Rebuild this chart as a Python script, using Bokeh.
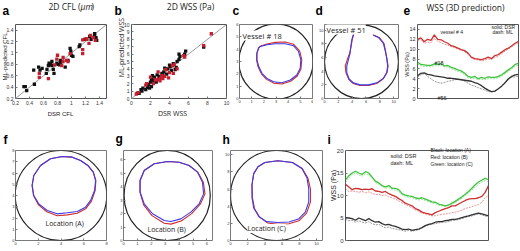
import numpy as np
from bokeh.plotting import figure
from bokeh.layouts import row
from bokeh.models import Label, FixedTicker, Range1d, GridBox
from bokeh.embed import file_html
from bokeh.resources import INLINE

# ---------------- data ----------------
# (a) 2D CFL: DSR vs ML-predicted
cfl_dsr_black = [0.32,0.34,0.36,0.47,0.46,0.53,0.55,0.58,0.64,0.65,0.67,0.68,0.72,0.74,0.75,0.79,0.81,0.84,0.86,0.91,
                 0.95,0.98,0.99,1.00,1.02,1.11,1.12,1.19,1.26,1.28,1.33,1.35,1.36,1.33,0.84,0.72,0.83,0.70]
cfl_ml_black = [0.41,0.41,0.34,0.45,0.70,0.75,0.70,0.73,0.64,0.71,0.78,0.82,0.85,0.71,0.64,0.82,0.80,0.82,0.85,0.75,
                0.87,1.08,1.03,0.96,0.94,1.11,1.14,1.24,1.29,1.24,1.34,1.27,1.22,1.32,0.87,0.78,0.79,0.80]
cfl_dsr_red = [0.54,0.54,0.67,0.80,0.79,0.88,0.86,0.93,0.95,0.98,1.16,1.16,1.16,1.21,1.25,1.27,1.31,1.34,1.22,0.76,0.88]
cfl_ml_red = [0.64,0.57,0.55,0.96,0.89,0.92,0.78,0.87,0.85,0.99,0.99,1.06,1.23,1.25,1.17,1.31,1.27,1.22,1.24,0.79,0.85]
cfl_identity = [0.2, 1.5]

# (b) 2D WSS: DSR vs ML-predicted
wss_dsr_black = [0.6,0.8,1.0,1.1,1.2,1.8,1.9,2.0,2.1,2.1,2.2,2.4,2.6,2.7,2.9,3.2,3.4,3.7,3.8,4.1,
                 4.2,4.6,4.7,4.8,5.0,5.1,5.6,5.7,5.0,1.7,3.5,4.0,3.3,7.6,2.3,1.5,4.4]
wss_ml_black = [0.7,0.7,1.2,1.0,1.4,1.9,1.4,2.2,1.6,2.6,3.1,2.9,2.2,3.2,3.0,3.4,3.6,3.3,4.0,4.3,
                3.8,3.9,4.2,5.0,5.3,5.7,6.0,6.4,6.0,1.5,4.1,4.5,3.2,6.95,2.4,1.2,4.7]
wss_dsr_red = [0.5,0.7,1.5,1.6,2.3,2.5,2.8,3.0,3.1,3.3,3.5,3.6,3.9,4.0,4.3,4.4,4.5,5.5,5.6,2.0,2.8,7.6,8.4,4.8,3.2]
wss_ml_red = [0.6,0.8,1.8,2.0,2.0,2.5,2.6,2.4,2.8,2.7,3.0,3.9,2.8,3.5,4.4,3.4,4.6,5.8,5.6,2.9,3.6,7.15,8.75,4.0,3.1]
wss_identity = [0.0, 10.0]

# cross-section contours (red / blue) and outer wall circle (cx, cy, width, height)
c_red_x = [1.72,2.26,2.94,3.76,4.44,4.95,5.12,5.05,4.75,4.20,3.49,2.81,2.22,1.80,1.52,1.40,1.42,1.56]
c_red_y = [4.25,4.42,4.55,4.58,4.40,3.85,3.13,2.40,1.82,1.40,1.17,1.25,1.55,2.00,2.59,3.13,3.68,4.10]
c_blue_x = [1.72,2.26,2.94,3.76,4.44,4.85,5.04,4.99,4.71,4.17,3.49,2.81,2.26,1.85,1.58,1.44,1.44,1.58]
c_blue_y = [4.22,4.36,4.44,4.44,4.28,3.81,3.13,2.45,1.91,1.50,1.28,1.36,1.63,2.04,2.59,3.13,3.68,4.09]
c_wall = [3.0, 3.0, 6.1, 6.1]

d_red_x = [4.25,4.00,3.85,3.65,3.30,3.00,3.10,3.50,4.15,5.14,6.35,7.55,8.50,9.05,9.20,9.00,8.80,8.60,7.90,7.00]
d_red_y = [9.50,8.60,7.60,6.67,5.71,4.76,3.81,2.80,2.20,1.90,1.92,2.20,2.90,3.81,4.76,5.95,7.14,8.10,8.95,9.35]
d_blue_x = [4.18,3.94,3.80,3.70,3.46,3.22,3.22,3.56,4.18,5.14,6.35,7.55,8.51,8.99,9.13,8.99,8.75,8.51,7.79,7.07]
d_blue_y = [9.43,8.57,7.62,6.67,5.71,4.76,3.81,2.86,2.29,2.00,2.00,2.29,2.95,3.81,4.76,5.95,7.14,8.10,8.95,9.29]
d_wall = [5.35, 5.4, 10.7, 10.8]

f_red_x = [4.10,3.08,2.20,1.61,1.45,1.58,2.00,2.75,3.67,4.55,5.43,6.20,6.68,7.00,7.07,6.85,6.36,5.72,4.99]
f_red_y = [7.47,7.26,6.67,5.78,4.89,4.00,3.20,2.55,2.20,2.28,2.42,2.85,3.50,4.44,5.33,6.07,6.67,7.11,7.41]
f_blue_x = [4.10,3.08,2.20,1.61,1.47,1.61,2.05,2.79,3.67,4.55,5.43,6.16,6.60,6.95,7.04,6.83,6.36,5.72,4.99]
f_blue_y = [7.47,7.26,6.67,5.78,4.89,4.00,3.26,2.67,2.37,2.46,2.58,2.96,3.56,4.44,5.33,6.07,6.67,7.11,7.41]
f_wall = [4.0, 4.0, 8.05, 8.0]

g_red_x = [3.17,2.21,1.49,1.18,1.18,1.45,2.05,2.93,3.41,4.15,4.90,5.52,5.86,5.74,5.34,4.72,4.00]
g_red_y = [5.88,5.71,5.21,4.47,3.60,2.65,1.85,1.28,1.22,1.45,2.00,2.70,3.47,4.34,5.09,5.58,5.83]
g_blue_x = [3.17,2.21,1.49,1.20,1.20,1.49,2.09,2.93,3.41,4.12,4.84,5.44,5.76,5.68,5.32,4.72,4.00]
g_blue_y = [5.88,5.71,5.21,4.47,3.60,2.73,1.99,1.49,1.41,1.61,2.11,2.73,3.47,4.34,5.09,5.58,5.83]
g_wall = [3.14, 3.35, 6.2, 6.7]

h_red_x = [5.5,4.0,3.2,2.7,2.5,2.55,2.8,3.4,4.3,5.5,6.8,7.95,8.85,9.3,9.3,9.0,8.35,7.2]
h_red_y = [9.3,9.1,8.6,7.8,6.5,5.0,3.7,2.7,2.05,1.9,1.95,2.3,3.2,4.5,6.0,7.3,8.4,9.1]
h_blue_x = [5.5,4.0,3.2,2.7,2.5,2.5,2.7,3.3,4.2,5.5,6.8,7.9,8.7,9.1,9.1,8.9,8.3,7.2]
h_blue_y = [9.3,9.1,8.6,7.8,6.5,5.0,3.8,2.8,2.2,2.1,2.15,2.5,3.3,4.5,6.0,7.3,8.4,9.1]
h_wall = [5.35, 5.25, 10.7, 10.5]

# (e) WSS along the vessel, 3D prediction
e_v4_dsr = [12.0,12.3,11.5,12.0,11.8,12.9,12.0,11.9,11.5,11.2,10.7,10.5,10.2,9.9,9.7,9.2,8.4,8.1,8.0,7.9,
            8.1,8.4,8.1,8.7,8.9,9.4,9.9,10.2,10.7,11.2,11.6]
e_v4_ml = [11.6,11.9,11.2,11.4,11.3,12.2,11.6,11.3,11.0,10.8,10.5,10.3,10.0,9.8,9.5,9.0,8.2,7.9,7.8,7.6,
           7.8,8.0,7.9,8.3,8.6,9.1,9.6,10.0,10.5,10.9,11.3]
e_v18_dsr = [7.4,6.9,6.8,6.7,6.7,7.0,6.9,7.1,6.6,6.7,6.3,6.1,5.8,5.6,5.1,4.5,4.3,4.5,4.0,4.3,
             4.1,4.4,4.3,4.3,4.5,4.8,5.3,5.8,6.3,6.9,7.1]
e_v18_ml = [7.0,6.6,6.5,6.5,6.4,6.7,6.6,6.8,6.4,6.4,6.0,5.8,5.5,5.3,4.8,4.2,4.0,4.1,3.8,3.9,
            3.8,4.0,4.0,4.0,4.2,4.5,5.0,5.5,6.0,6.5,6.8]
e_v56_dsr = [4.6,5.1,5.2,4.9,4.8,4.6,4.5,4.4,4.3,4.1,4.1,4.0,3.9,3.8,3.7,3.6,3.5,3.2,3.0,2.6,
             2.1,1.7,1.4,1.5,1.96,2.5,3.2,4.0,4.5,4.8,4.9]
e_v56_ml = [4.3,4.8,5.05,4.5,4.0,3.5,3.25,3.1,3.25,3.5,3.6,3.8,3.9,3.8,3.5,3.1,2.7,2.5,2.2,1.96,
            1.7,1.4,1.3,1.5,1.96,2.6,3.2,3.8,4.3,4.4,4.5]
e_ticks = [0, 2, 4, 6, 8, 10, 12, 14]

# (i) WSS at three locations
i_c_dsr = [13.45,14.4,15.0,15.4,15.0,14.7,15.3,15.0,14.1,13.2,12.8,12.2,11.9,12.2,11.6,11.6,11.3,10.4,10.1,9.9,
           9.8,9.5,9.3,9.5,9.2,8.9,8.6,8.5,8.1,7.9,7.7,7.9,8.3,8.7,9.2,9.7,10.3,10.9,11.6,12.4,13.0,13.45,13.8,13.5]
i_c_ml = [12.85,13.9,14.7,15.0,14.6,14.3,14.8,14.6,13.8,12.9,12.5,12.0,11.6,11.8,11.3,11.2,10.9,10.1,9.8,9.6,
          9.5,9.2,9.0,9.1,8.9,8.6,8.3,8.2,7.9,7.7,7.6,7.7,8.0,8.4,8.9,9.4,10.0,10.6,11.2,11.9,12.5,13.0,13.3,13.0]
i_b_dsr = [12.5,11.9,11.3,11.6,11.5,11.3,11.4,11.3,11.5,11.0,10.9,10.7,10.9,10.4,10.1,9.8,9.3,8.9,8.3,8.0,
           7.7,7.1,6.8,6.3,6.06,5.9,5.7,6.2,6.5,6.8,7.1,7.3,7.7,7.7,8.1,8.5,8.9,9.2,9.3,9.3,9.5,9.8,10.7,12.2]
i_b_ml = [11.6,10.9,11.0,10.9,10.7,10.9,10.6,10.8,10.5,10.2,10.3,10.0,10.1,9.7,9.5,9.2,8.8,8.4,8.0,7.6,
          7.3,6.8,6.5,6.1,5.9,5.7,5.45,5.5,5.7,5.8,5.9,6.0,6.2,6.3,6.5,6.8,7.1,7.3,7.5,7.8,8.0,8.5,9.5,10.1]
i_a_dsr = [5.1,5.0,4.85,4.5,5.0,4.7,4.4,4.85,4.4,4.06,4.2,3.76,3.45,3.6,3.3,3.15,2.85,2.55,2.4,2.55,
           2.24,2.4,2.55,2.85,3.3,3.6,3.76,4.06,4.2,4.2,4.4,4.5,4.7,4.7,4.85,5.1,5.3,5.45,5.7,5.9,6.06,5.9,5.7,5.45]
i_a_ml = [4.7,4.4,4.5,4.06,4.4,4.06,3.9,4.2,3.76,3.45,3.6,3.15,2.85,3.0,2.67,2.55,2.4,2.24,2.06,2.24,
          2.06,2.24,2.4,2.85,3.15,3.45,3.6,3.76,3.9,4.06,4.06,4.2,4.4,4.5,4.7,4.85,5.1,5.3,5.45,5.7,5.9,5.7,5.45,5.3]
i_ticks = [0, 5, 10, 15, 20]

# ---------------- layout specs (page pixels) ----------------
SPECS = {}
def spec(name, fx0, fy0, w, h, fl, ft, fr, fb, xr, yr):
    SPECS[name] = dict(fx0=fx0, fy0=fy0, w=w, h=h, fl=fl, ft=ft, fr=fr, fb=fb, xr=xr, yr=yr)

spec("a", 0, 0, 112, 125, 15, 10, 106, 103, (0.2, 1.5), (0.2, 1.5))
spec("b", 112, 0, 118, 125, 131, 10, 226, 103, (0, 10), (0, 10))
spec("c", 230, 0, 83, 125, 239, 24, 312, 98, (0, 6), (0, 6))
spec("d", 313, 0, 89, 125, 324, 23, 398, 100, (0, 10.7), (0, 10.85))
spec("e", 402, 0, 118, 125, 417, 15, 518, 113, (0, 30), (0, 15))
spec("f", 0, 125, 113, 126, 15, 150, 106, 240, (0, 8), (0, 8))
spec("g", 113, 125, 107, 126, 123, 150, 212, 240, (0, 6.4), (0, 6.7))
spec("h", 220, 125, 104, 126, 230, 150, 322, 240, (0, 10.7), (0, 10.5))
spec("i", 324, 125, 196, 126, 345, 137, 488, 247, (0, 43), (0, 20))

def make_fig(name, outline="#555555"):
    s = SPECS[name]
    p = figure(width=s["w"], height=s["h"], title=None,
               x_range=Range1d(*s["xr"]), y_range=Range1d(*s["yr"]),
               output_backend="svg", toolbar_location=None, tools="",
               min_border_left=s["fl"] - s["fx0"],
               min_border_right=s["fx0"] + s["w"] - s["fr"],
               min_border_top=s["ft"] - s["fy0"],
               min_border_bottom=s["fy0"] + s["h"] - s["fb"])
    p.grid.visible = False
    p.outline_line_color = outline
    p.outline_line_width = 1
    p.background_fill_color = "white"
    p.border_fill_color = "white"
    return p

def style(p, xticks, yticks, fs, show_x=True, standoff=2):
    p.xaxis.visible = show_x
    p.xaxis.ticker = FixedTicker(ticks=xticks)
    p.yaxis.ticker = FixedTicker(ticks=yticks)
    for ax in [p.xaxis[0], p.yaxis[0]]:
        ax.axis_line_color = None
        ax.major_tick_in = 2
        ax.major_tick_out = 0
        ax.major_tick_line_color = "#777777"
        ax.minor_tick_line_color = None
        ax.major_label_text_font_size = f"{fs}px"
        ax.major_label_text_font = "Liberation Sans"
        ax.major_label_text_color = "#333333"
        ax.major_label_standoff = standoff

# transparent full-page overlay that carries the free text, in page pixels
ov = figure(width=520, height=251, title=None, x_range=Range1d(0, 520), y_range=Range1d(251, 0),
            output_backend="svg", toolbar_location=None, tools="", min_border=0,
            x_axis_location=None, y_axis_location=None)
ov.grid.visible = False
ov.outline_line_color = None
ov.background_fill_color = None
ov.border_fill_color = None

def txt(px, py, text, size, font="Liberation Sans", style_="normal",
        align="left", baseline="middle", angle=0.0, color="#222222", bg=None):
    ov.add_layout(Label(x=px, y=py, text=text, text_font_size=f"{size}px", text_font=font,
                        text_font_style=style_, text_align=align, text_baseline=baseline,
                        angle=angle, text_color=color, background_fill_color=bg))

def letter(px, py, t):
    txt(px, py, t, 12, font="Liberation Sans", style_="bold", baseline="alphabetic", color="#000000")

RED = "#d12b2b"; BLUE = "#3b3bea"; BLACK_PT = "#111111"; RED_PT = "#c41e2e"
UP = np.pi / 2

# ---- (a)
pa = make_fig("a")
pa.line(cfl_identity, cfl_identity, line_color="#9a9a9a", line_width=1)
pa.scatter(cfl_dsr_black, cfl_ml_black, marker="square", size=3.3, fill_color=BLACK_PT, line_color=None)
pa.scatter(cfl_dsr_red, cfl_ml_red, marker="square", size=3.3, fill_color=RED_PT, line_color=None)
tk_a = [0.2, 0.4, 0.6, 0.8, 1.0, 1.2, 1.4]
style(pa, tk_a, tk_a, 5)
ovr = {0.2: "0.2", 0.4: "0.4", 0.6: "0.6", 0.8: "0.8", 1.0: "1", 1.2: "1.2", 1.4: "1.4"}
pa.xaxis.major_label_overrides = ovr
pa.yaxis.major_label_overrides = ovr
letter(2, 10.5, "a")
txt(48, 6, "2D CFL (", 8.5, font="Open Sans")
txt(80, 6, "\u03bcm", 8.5, font="Open Sans", style_="italic")
txt(91, 6, ")", 8.5, font="Open Sans")
txt(60, 113, "DSR CFL", 6, align="center")
txt(4, 56, "ML-predicted CFL", 6, align="center", angle=UP)

# ---- (b)
pb = make_fig("b")
pb.line(wss_identity, wss_identity, line_color="#9a9a9a", line_width=1)
pb.scatter(wss_dsr_black, wss_ml_black, marker="square", size=3.3, fill_color=BLACK_PT, line_color=None)
pb.scatter(wss_dsr_red, wss_ml_red, marker="square", size=3.3, fill_color=RED_PT, line_color=None)
style(pb, [0, 2, 4, 6, 8, 10], list(range(0, 11)), 5)
letter(114, 10.5, "b")
txt(190, 6, "2D WSS (Pa)", 8.5, font="Open Sans", align="center")
txt(172, 113, "DSR WSS", 7, font="Open Sans", align="center")
txt(121, 47, "ML-predicted WSS", 7, font="Open Sans", align="center", angle=UP)

def contour(p, xs, ys, color, closed=True):
    if closed:
        xs = list(xs) + [xs[0]]
        ys = list(ys) + [ys[0]]
    p.line(xs, ys, line_color=color, line_width=1.1, line_join="round")

def wall(p, w):
    p.ellipse(x=[w[0]], y=[w[1]], width=[w[2]], height=[w[3]], fill_color=None,
              line_color="#222222", line_width=1.2)

CONT_OUT = "#7a7a7a"

# ---- (c)
pc = make_fig("c", CONT_OUT)
wall(pc, c_wall)
contour(pc, c_red_x, c_red_y, RED)
contour(pc, c_blue_x, c_blue_y, BLUE)
style(pc, list(range(0, 7)), list(range(0, 7)), 4, standoff=1)
letter(232, 10, "c")
txt(242, 35, "Vessel # 18", 7.5, font="Open Sans", bg="white")

# ---- (d)
pd_ = make_fig("d", CONT_OUT)
wall(pd_, d_wall)
contour(pd_, d_red_x, d_red_y, RED, closed=False)
contour(pd_, d_blue_x, d_blue_y, BLUE, closed=False)
style(pd_, [0, 2, 4, 6, 8, 10], [0, 2, 4, 6, 8, 10], 4, standoff=1)
letter(315, 10, "d")
txt(326, 29, "Vessel # 51", 7.5, font="Open Sans", bg="white")

# ---- (e)
pe = make_fig("e")
ex = np.arange(len(e_v4_dsr))
LR, LRD = "#cc3030", "#e58a8a"
LG, LGD = "#3ec43e", "#93dc93"
LK, LKD = "#333333", "#8c8c8c"
for sol, das, c1, c2 in [(e_v4_dsr, e_v4_ml, LR, LRD), (e_v18_dsr, e_v18_ml, LG, LGD), (e_v56_dsr, e_v56_ml, LK, LKD)]:
    pe.line(ex, das, line_color=c2, line_width=0.9, line_dash="2 1")
    pe.line(ex, sol, line_color=c1, line_width=1.3)
style(pe, [], e_ticks, 5.5, show_x=False)
letter(403, 9.5, "e")
txt(465, 7, "WSS (3D prediction)", 8.5, font="Open Sans", align="center")
txt(406.5, 64, "WSS (Pa)", 5.5, align="center", angle=UP)
txt(440, 31, "vessel # 4", 5)
txt(491, 26, "solid: DSR", 5)
txt(492, 31, "dash: ML", 5)
txt(434, 62, "#18", 5.5)
txt(437, 97, "#56", 5.5)

# ---- (f)
pf = make_fig("f", CONT_OUT)
wall(pf, f_wall)
contour(pf, f_red_x, f_red_y, RED)
contour(pf, f_blue_x, f_blue_y, BLUE)
style(pf, list(range(0, 9, 2)), list(range(0, 9)), 4, standoff=1)
letter(3, 139, "f")
txt(45, 223, "Location (A)", 7, font="Open Sans")

# ---- (g)
pg = make_fig("g", CONT_OUT)
wall(pg, g_wall)
contour(pg, g_red_x, g_red_y, RED)
contour(pg, g_blue_x, g_blue_y, BLUE)
style(pg, list(range(0, 7)), list(range(0, 7)), 4, standoff=1)
letter(115, 138, "g")
txt(147, 229, "Location (B)", 7, font="Open Sans")

# ---- (h)
ph = make_fig("h", CONT_OUT)
wall(ph, h_wall)
contour(ph, h_red_x, h_red_y, RED)
contour(ph, h_blue_x, h_blue_y, BLUE)
style(ph, [0, 2, 4, 6, 8, 10], [0, 2, 4, 6, 8, 10], 4, standoff=1)
letter(222, 139, "h")
txt(247, 228, "Location (C)", 7, font="Open Sans", bg="white")

# ---- (i)
pi_ = make_fig("i")
ix = np.arange(len(i_c_dsr))
for sol, das, c1, c2 in [(i_c_dsr, i_c_ml, LG, LGD), (i_b_dsr, i_b_ml, LR, LRD), (i_a_dsr, i_a_ml, LK, LKD)]:
    pi_.line(ix, das, line_color=c2, line_width=0.9, line_dash="2 1")
    pi_.line(ix, sol, line_color=c1, line_width=1.3)
style(pi_, [], i_ticks, 6, show_x=False)
letter(327, 139, "i")
txt(333, 185, "WSS (Pa)", 7, align="center", angle=UP)
txt(390, 155, "solid:  DSR", 5.5)
txt(390, 162, "dash:  ML", 5.5)
txt(430, 149.5, "Black: location (A)", 5)
txt(430, 156, "Red: location  (B)", 5)
txt(430, 163, "Green:  location (C)", 5)

top = row(pa, pb, pc, pd_, pe, spacing=0)
bottom = row(pf, pg, ph, pi_, spacing=0)
layout = GridBox(children=[(top, 0, 0), (bottom, 1, 0), (ov, 0, 0, 2, 1)], spacing=0)
open("out.html", "w").write(file_html(layout, INLINE))
